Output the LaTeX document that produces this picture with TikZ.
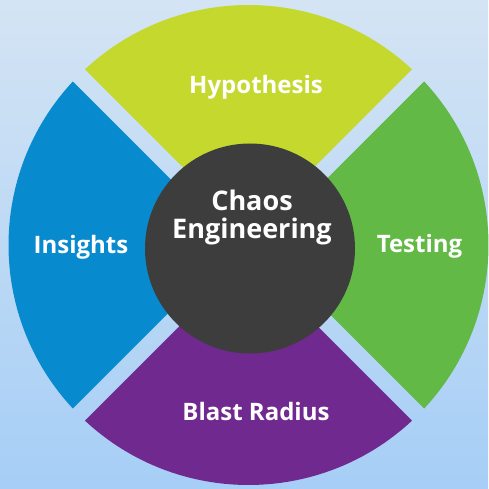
\documentclass[tikz,border=0pt]{standalone}
\usepackage{fontspec}
\setmainfont{Open Sans}

\definecolor{hypo}{RGB}{197,216,46}
\definecolor{test}{RGB}{98,185,70}
\definecolor{blast}{RGB}{111,41,143}
\definecolor{insight}{RGB}{8,139,206}
\definecolor{core}{RGB}{61,61,61}
\definecolor{skytop}{RGB}{212,228,244}
\definecolor{skybot}{RGB}{166,206,246}

\tikzset{
  ringlabel/.style={text=white, anchor=base, inner sep=0pt, font=\bfseries\fontsize{24}{26}\selectfont},
  corelabel/.style={text=white, anchor=base, inner sep=0pt, align=center, font=\bfseries\fontsize{27}{28}\selectfont}
}

\begin{document}
\begin{tikzpicture}[x=1pt, y=1pt]
\def\R{240};
\def\h{8.5};
\pgfmathsetmacro\d{asin(\h/\R)};
\pgfmathsetmacro\tip{\h*sqrt(2)};

% background
\shade[top color=skytop, bottom color=skybot] (-248.5,-244) rectangle (239.5,245);
\useasboundingbox (-248.5,-244) rectangle (239.5,245);

% four sectors, gaps along the diagonals
\foreach \rot/\col in {0/hypo, -90/test, 180/blast, 90/insight}
  \fill[\col, rotate=\rot] (0,\tip) -- ({45+\d}:\R)
    arc[start angle={45+\d}, end angle={135-\d}, radius=\R] -- cycle;

% centre disc
\node[circle, fill=core, minimum size=210pt, inner sep=0pt] (core) at (1.5,-3.5) {};
\node[corelabel] (chaos) at (3.5,6) {Chaos\\Engineering};

% labels
\node[ringlabel] (hypothesis) at (7.5,151.5) {Hypothesis};
\node[ringlabel] (testing) at (171,-8) {Testing};
\node[ringlabel] (radius) at (7.5,-175) {Blast Radius};
\node[ringlabel] (insights) at (-167.5,-9) {Insights};

\end{tikzpicture}
\end{document}
